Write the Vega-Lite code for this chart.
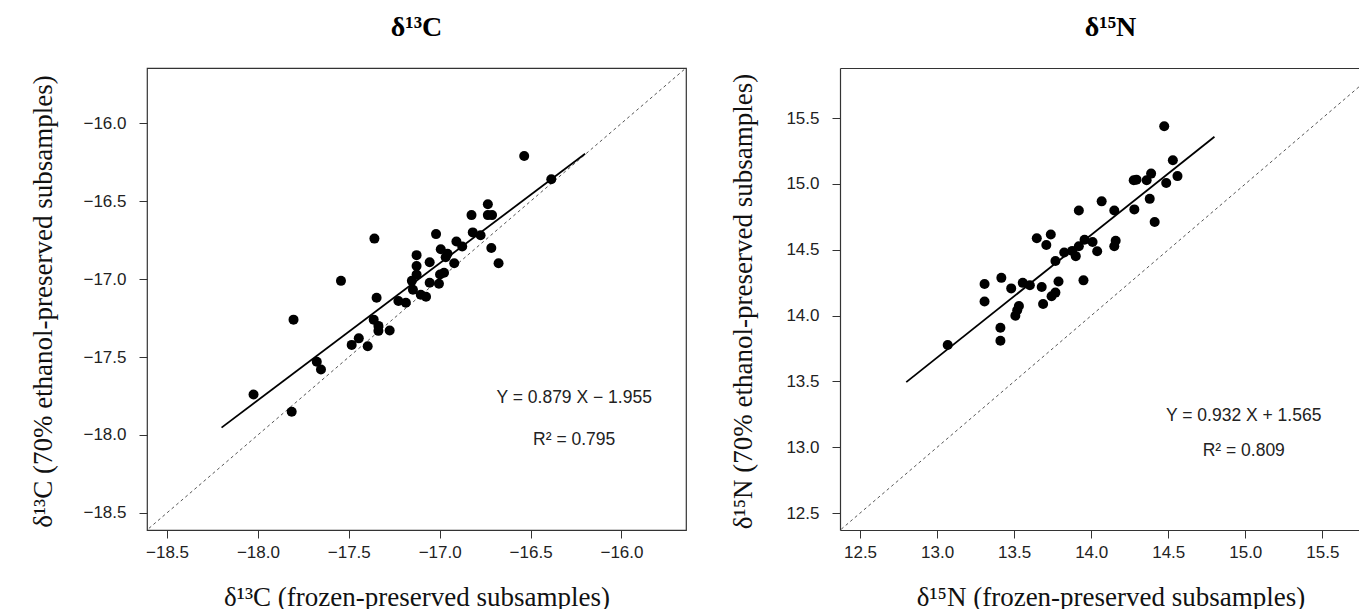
{
  "$schema": "https://vega.github.io/schema/vega-lite/v6.json",
  "padding": {"left": 28, "top": 13, "right": 0, "bottom": 0},
  "background": "white",
  "datasets": {
    "c13": [
      {"x": -16.535, "y": -16.21}, {"x": -16.386, "y": -16.359}, {"x": -16.735, "y": -16.519}, {"x": -16.825, "y": -16.589},
      {"x": -16.735, "y": -16.589}, {"x": -16.712, "y": -16.589}, {"x": -17.02, "y": -16.711}, {"x": -16.818, "y": -16.7},
      {"x": -16.775, "y": -16.718}, {"x": -17.359, "y": -16.74}, {"x": -16.908, "y": -16.758}, {"x": -16.876, "y": -16.79},
      {"x": -16.716, "y": -16.8}, {"x": -16.994, "y": -16.808}, {"x": -16.957, "y": -16.837}, {"x": -16.967, "y": -16.86},
      {"x": -17.127, "y": -16.846}, {"x": -17.055, "y": -16.892}, {"x": -16.92, "y": -16.898}, {"x": -16.676, "y": -16.898},
      {"x": -17.127, "y": -16.916}, {"x": -17.127, "y": -16.971}, {"x": -16.976, "y": -16.959}, {"x": -16.998, "y": -16.97},
      {"x": -17.153, "y": -17.011}, {"x": -17.543, "y": -17.011}, {"x": -17.055, "y": -17.023}, {"x": -17.004, "y": -17.03},
      {"x": -17.147, "y": -17.068}, {"x": -17.104, "y": -17.1}, {"x": -17.075, "y": -17.113}, {"x": -17.347, "y": -17.12},
      {"x": -17.227, "y": -17.14}, {"x": -17.186, "y": -17.151}, {"x": -17.804, "y": -17.26}, {"x": -17.363, "y": -17.26},
      {"x": -17.337, "y": -17.3}, {"x": -17.337, "y": -17.332}, {"x": -17.275, "y": -17.33}, {"x": -17.445, "y": -17.38},
      {"x": -17.484, "y": -17.422}, {"x": -17.396, "y": -17.431}, {"x": -17.676, "y": -17.53}, {"x": -17.653, "y": -17.58},
      {"x": -18.024, "y": -17.74}, {"x": -17.814, "y": -17.851}
    ],
    "n15": [
      {"x": 14.474, "y": 15.439}, {"x": 14.53, "y": 15.18}, {"x": 14.56, "y": 15.06}, {"x": 14.487, "y": 15.007},
      {"x": 14.389, "y": 15.079}, {"x": 14.36, "y": 15.028}, {"x": 14.276, "y": 15.028}, {"x": 14.294, "y": 15.033},
      {"x": 14.38, "y": 14.887}, {"x": 14.28, "y": 14.807}, {"x": 14.412, "y": 14.711}, {"x": 14.068, "y": 14.868},
      {"x": 14.15, "y": 14.799}, {"x": 13.92, "y": 14.799}, {"x": 14.159, "y": 14.569}, {"x": 14.15, "y": 14.527},
      {"x": 13.647, "y": 14.588}, {"x": 13.738, "y": 14.617}, {"x": 13.709, "y": 14.537}, {"x": 13.957, "y": 14.577},
      {"x": 14.009, "y": 14.559}, {"x": 14.039, "y": 14.489}, {"x": 13.92, "y": 14.527}, {"x": 13.877, "y": 14.492},
      {"x": 13.825, "y": 14.479}, {"x": 13.9, "y": 14.452}, {"x": 13.768, "y": 14.415}, {"x": 13.95, "y": 14.268},
      {"x": 13.788, "y": 14.26}, {"x": 13.556, "y": 14.249}, {"x": 13.602, "y": 14.231}, {"x": 13.417, "y": 14.287},
      {"x": 13.308, "y": 14.241}, {"x": 13.481, "y": 14.207}, {"x": 13.679, "y": 14.217}, {"x": 13.768, "y": 14.175},
      {"x": 13.743, "y": 14.148}, {"x": 13.688, "y": 14.089}, {"x": 13.308, "y": 14.108}, {"x": 13.531, "y": 14.073},
      {"x": 13.52, "y": 14.041}, {"x": 13.508, "y": 13.999}, {"x": 13.411, "y": 13.908}, {"x": 13.411, "y": 13.809},
      {"x": 13.069, "y": 13.777}
    ],
    "c13fit": [{"x": -18.2, "y": -17.953}, {"x": -16.2, "y": -16.195}],
    "n15fit": [{"x": 12.8, "y": 13.495}, {"x": 14.8, "y": 15.359}],
    "c13diag": [{"x": -18.8, "y": -18.8}, {"x": -15.4, "y": -15.4}],
    "n15diag": [{"x": 12.2, "y": 12.2}, {"x": 16.1, "y": 16.1}],
    "c13txt": [{"x": -16.26, "y": -17.76, "label": "Y = 0.879 X − 1.955"}, {"x": -16.26, "y": -18.03, "label": "R² = 0.795"}],
    "n15txt": [{"x": 14.99, "y": 13.24, "label": "Y = 0.932 X + 1.565"}, {"x": 14.99, "y": 12.975, "label": "R² = 0.809"}]
  },
  "hconcat": [
    {
      "width": 539,
      "height": 462,
      "title": {"text": "δ¹³C", "font": "Liberation Serif", "fontSize": 28, "fontWeight": "bold", "anchor": "middle", "frame": "group", "baseline": "middle", "offset": 12, "color": "#000"},
      "layer": [
        {
          "data": {"name": "c13diag"},
          "mark": {"type": "line", "color": "#555", "strokeWidth": 1, "strokeDash": [3, 3], "clip": true},
          "encoding": {
            "x": {"field": "x", "type": "quantitative", "scale": {"domain": [-18.61, -15.645], "nice": false, "zero": false},
                  "axis": {"values": [-18.5, -18, -17.5, -17, -16.5, -16], "format": ".1f", "title": "δ¹³C (frozen-preserved subsamples)", "titleX": 269.5, "titleY": 67, "titleBaseline": "middle", "titleAlign": "center"}},
            "y": {"field": "y", "type": "quantitative", "scale": {"domain": [-18.61, -15.645], "nice": false, "zero": false},
                  "axis": {"values": [-18.5, -18, -17.5, -17, -16.5, -16], "format": ".1f", "title": "δ¹³C (70% ethanol-preserved subsamples)", "titleX": -104, "titleY": 233, "titleBaseline": "middle", "titleAlign": "center", "titleAngle": -90}}
          }
        },
        {
          "data": {"name": "c13fit"},
          "mark": {"type": "line", "color": "#000", "strokeWidth": 1.8},
          "encoding": {"x": {"field": "x", "type": "quantitative"}, "y": {"field": "y", "type": "quantitative"}}
        },
        {
          "data": {"name": "c13"},
          "mark": {"type": "circle", "color": "#000", "opacity": 1, "size": 100},
          "encoding": {"x": {"field": "x", "type": "quantitative"}, "y": {"field": "y", "type": "quantitative"}}
        },
        {
          "data": {"name": "c13txt"},
          "mark": {"type": "text", "font": "Liberation Sans", "fontSize": 17.5, "color": "#222", "align": "center", "baseline": "middle"},
          "encoding": {"x": {"field": "x", "type": "quantitative"}, "y": {"field": "y", "type": "quantitative"}, "text": {"field": "label"}}
        }
      ]
    },
    {
      "width": 519,
      "height": 462,
      "view": {"stroke": null},
      "title": {"text": "δ¹⁵N", "font": "Liberation Serif", "fontSize": 28, "fontWeight": "bold", "anchor": "middle", "frame": "group", "baseline": "middle", "offset": 12, "dx": 11, "color": "#000"},
      "layer": [
        {
          "data": {"name": "n15diag"},
          "mark": {"type": "line", "color": "#555", "strokeWidth": 1, "strokeDash": [3, 3], "clip": true},
          "encoding": {
            "x": {"field": "x", "type": "quantitative", "scale": {"domain": [12.37, 15.738], "nice": false, "zero": false},
                  "axis": {"values": [12.5, 13, 13.5, 14, 14.5, 15, 15.5], "format": ".1f", "domain": true, "title": "δ¹⁵N (frozen-preserved subsamples)", "titleX": 270.5, "titleY": 67, "titleBaseline": "middle", "titleAlign": "center"}},
            "y": {"field": "y", "type": "quantitative", "scale": {"domain": [12.372, 15.881], "nice": false, "zero": false},
                  "axis": {"values": [12.5, 13, 13.5, 14, 14.5, 15, 15.5], "format": ".1f", "domain": true, "title": "δ¹⁵N (70% ethanol-preserved subsamples)", "titleX": -97, "titleY": 233, "titleBaseline": "middle", "titleAlign": "center", "titleAngle": -90}}
          }
        },
        {
          "data": {"name": "n15fit"},
          "mark": {"type": "line", "color": "#000", "strokeWidth": 1.8},
          "encoding": {
            "x": {"field": "x", "type": "quantitative", "axis": {"orient": "top", "labels": false, "ticks": false, "domain": true, "title": null, "grid": false}},
            "y": {"field": "y", "type": "quantitative"}
          }
        },
        {
          "data": {"name": "n15"},
          "mark": {"type": "circle", "color": "#000", "opacity": 1, "size": 100},
          "encoding": {"x": {"field": "x", "type": "quantitative", "axis": null}, "y": {"field": "y", "type": "quantitative"}}
        },
        {
          "data": {"name": "n15txt"},
          "mark": {"type": "text", "font": "Liberation Sans", "fontSize": 17.5, "color": "#222", "align": "center", "baseline": "middle"},
          "encoding": {"x": {"field": "x", "type": "quantitative", "axis": null}, "y": {"field": "y", "type": "quantitative"}, "text": {"field": "label"}}
        }
      ],
      "resolve": {"axis": {"x": "independent"}}
    }
  ],
  "spacing": 154,
  "bounds": "flush",
  "config": {
    "view": {"stroke": "#333", "strokeWidth": 1.2},
    "axis": {
      "grid": false,
      "domain": false,
      "domainColor": "#333",
      "domainWidth": 1.2,
      "tickColor": "#333",
      "tickSize": 8,
      "tickWidth": 1,
      "labelFont": "Liberation Sans",
      "labelFontSize": 17,
      "labelColor": "#222",
      "titleFont": "Liberation Serif",
      "titleFontSize": 27,
      "titleFontWeight": "normal",
      "titleColor": "#111"
    },
    "axisY": {"labelPadding": 13},
    "axisX": {"labelPadding": 6}
  }
}
